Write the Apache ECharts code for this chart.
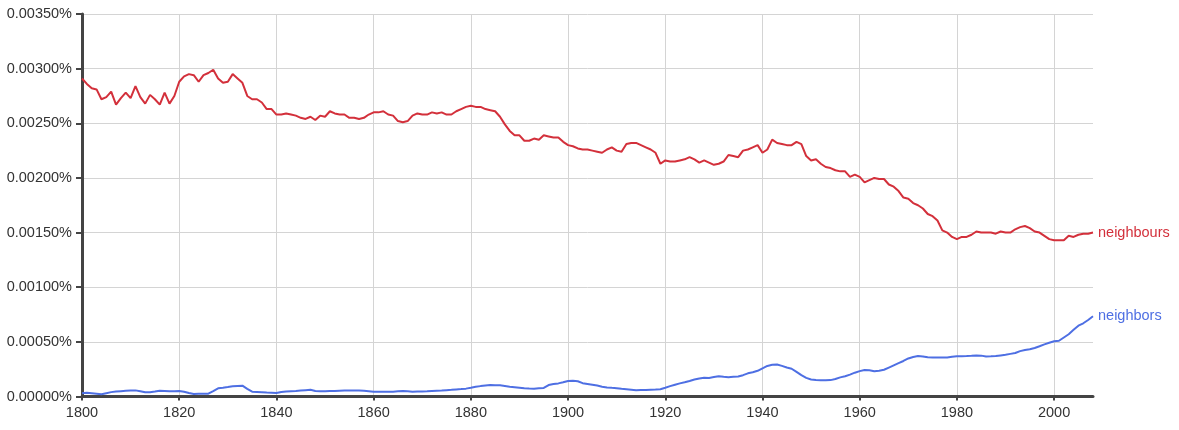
<!DOCTYPE html>
<html>
<head>
<meta charset="utf-8">
<title>neighbours / neighbors</title>
<script src="https://cdn.jsdelivr.net/npm/echarts@6/dist/echarts.min.js"></script>
<style>
  html, body { margin: 0; padding: 0; background: #fff; }
  #chart { width: 1179px; height: 430px; }
</style>
</head>
<body>
<div id="chart"></div>
<script>
// years 1800..2008, one value per year (percent)
var startYear = 1800;
var endYear = 2008;
var xTicks = [1800, 1820, 1840, 1860, 1880, 1900, 1920, 1940, 1960, 1980, 2000];
var yTicks = [0, 0.0005, 0.001, 0.0015, 0.002, 0.0025, 0.003, 0.0035];

var neighbours = [
  0.00291, 0.00286, 0.00282, 0.00281, 0.00272, 0.00274, 0.00279, 0.00267, 0.00273, 0.00278,
  0.00273, 0.00284, 0.00274, 0.00268, 0.00276, 0.00272, 0.00267, 0.00278, 0.00268, 0.00275,
  0.00288, 0.00293, 0.00295, 0.00294, 0.00288, 0.00294, 0.00296, 0.00299, 0.00291, 0.00287,
  0.00288, 0.00295, 0.00291, 0.00287, 0.00275, 0.00272, 0.00272, 0.00269, 0.00263, 0.00263,
  0.00258, 0.00258, 0.00259, 0.00258, 0.00257, 0.00255, 0.00254, 0.00256, 0.00253, 0.00257,
  0.00256, 0.00261, 0.00259, 0.00258, 0.00258, 0.00255, 0.00255, 0.00254, 0.00255, 0.00258,
  0.00260, 0.00260, 0.00261, 0.00258, 0.00257, 0.00252, 0.00251, 0.00252, 0.00257, 0.00259,
  0.00258, 0.00258, 0.00260, 0.00259, 0.00260, 0.00258, 0.00258, 0.00261, 0.00263, 0.00265,
  0.00266, 0.00265, 0.00265, 0.00263, 0.00262, 0.00261, 0.00256, 0.00249, 0.00243, 0.00239,
  0.00239, 0.00234, 0.00234, 0.00236, 0.00235, 0.00239, 0.00238, 0.00237, 0.00237, 0.00233,
  0.00230, 0.00229, 0.00227, 0.00226, 0.00226, 0.00225, 0.00224, 0.00223, 0.00226, 0.00228,
  0.00225, 0.00224, 0.00231, 0.00232, 0.00232, 0.00230, 0.00228, 0.00226, 0.00223, 0.00213,
  0.00216, 0.00215, 0.00215, 0.00216, 0.00217, 0.00219, 0.00217, 0.00214, 0.00216, 0.00214,
  0.00212, 0.00213, 0.00215, 0.00221, 0.00220, 0.00219, 0.00225, 0.00226, 0.00228, 0.00230,
  0.00223, 0.00226, 0.00235, 0.00232, 0.00231, 0.00230, 0.00230, 0.00233, 0.00231, 0.00220,
  0.00216, 0.00217, 0.00213, 0.00210, 0.00209, 0.00207, 0.00206, 0.00206, 0.00201, 0.00203,
  0.00201, 0.00196, 0.00198, 0.00200, 0.00199, 0.00199, 0.00194, 0.00192, 0.00188, 0.00182,
  0.00181, 0.00177, 0.00175, 0.00172, 0.00167, 0.00165, 0.00161, 0.00152, 0.00150, 0.00146,
  0.00144, 0.00146, 0.00146, 0.00148, 0.00151, 0.00150, 0.00150, 0.00150, 0.00149, 0.00151,
  0.00150, 0.00150, 0.00153, 0.00155, 0.00156, 0.00154, 0.00151, 0.00150, 0.00147, 0.00144,
  0.00143, 0.00143, 0.00143, 0.00147, 0.00146, 0.00148, 0.00149, 0.00149, 0.00150
];

var neighbors = [
  0.000029, 0.000035, 0.000030, 0.000025, 0.000020, 0.000030, 0.000040, 0.000045, 0.000049, 0.000052,
  0.000055, 0.000056, 0.000048, 0.000039, 0.000038, 0.000045, 0.000053, 0.000050, 0.000047, 0.000049,
  0.000050, 0.000043, 0.000032, 0.000023, 0.000025, 0.000026, 0.000026, 0.000050, 0.000075, 0.000080,
  0.000086, 0.000093, 0.000097, 0.000099, 0.000070, 0.000044, 0.000042, 0.000039, 0.000036, 0.000034,
  0.000032, 0.000042, 0.000046, 0.000048, 0.000050, 0.000054, 0.000058, 0.000062, 0.000050, 0.000048,
  0.000049, 0.000050, 0.000051, 0.000053, 0.000055, 0.000056, 0.000056, 0.000056, 0.000052, 0.000048,
  0.000044, 0.000044, 0.000044, 0.000044, 0.000044, 0.000047, 0.000050, 0.000047, 0.000044, 0.000045,
  0.000046, 0.000047, 0.000050, 0.000053, 0.000055, 0.000058, 0.000061, 0.000065, 0.000068, 0.000072,
  0.000080, 0.000089, 0.000095, 0.000100, 0.000105, 0.000104, 0.000102, 0.000096, 0.000090, 0.000085,
  0.000080, 0.000075, 0.000073, 0.000072, 0.000075, 0.000078, 0.000105, 0.000114, 0.000120, 0.000130,
  0.000142, 0.000143, 0.000140, 0.000122, 0.000115, 0.000108, 0.000100, 0.000090, 0.000083, 0.000079,
  0.000076, 0.000070, 0.000066, 0.000062, 0.000058, 0.000059, 0.000060, 0.000062, 0.000064, 0.000067,
  0.000080, 0.000095, 0.000108, 0.000120, 0.000130, 0.000142, 0.000155, 0.000165, 0.000172, 0.000170,
  0.000178, 0.000186, 0.000180, 0.000177, 0.000180, 0.000183, 0.000195, 0.000212, 0.000222, 0.000235,
  0.000258, 0.000280, 0.000290, 0.000293, 0.000280, 0.000265, 0.000254, 0.000225, 0.000195, 0.000170,
  0.000155, 0.000150, 0.000148, 0.000148, 0.000150, 0.000160, 0.000175, 0.000185, 0.000200, 0.000218,
  0.000232, 0.000243, 0.000240, 0.000232, 0.000236, 0.000245, 0.000265, 0.000285, 0.000305, 0.000325,
  0.000348, 0.000362, 0.000370, 0.000366, 0.000359, 0.000358, 0.000358, 0.000358, 0.000356, 0.000364,
  0.000368, 0.000369, 0.000370, 0.000372, 0.000375, 0.000374, 0.000367, 0.000368, 0.000370, 0.000376,
  0.000382, 0.000390, 0.000398, 0.000415, 0.000425, 0.000432, 0.000444, 0.000460, 0.000477, 0.000492,
  0.000505, 0.000510, 0.000540, 0.000570, 0.000610, 0.000648, 0.000670, 0.000700, 0.000734
];

function toPairs(arr) {
  var out = [];
  for (var i = 0; i < arr.length; i++) {
    out.push([startYear + i, arr[i]]);
  }
  return out;
}

var font = '"Liberation Sans", Arial, Helvetica, sans-serif';
var redColor = '#d3303b';
var blueColor = '#4e6fe3';

var chart = echarts.init(document.getElementById('chart'), null, { renderer: 'canvas' });

chart.setOption({
  animation: false,
  backgroundColor: '#fff',
  grid: { left: 82, right: 86, top: 14, bottom: 33.5 },
  xAxis: {
    type: 'value',
    min: startYear,
    max: endYear,
    interval: 20,
    axisLine: { show: true, lineStyle: { color: '#444', width: 3 } },
    axisTick: { show: true, length: 4, lineStyle: { color: '#444', width: 2 } },
    axisLabel: {
      showMaxLabel: false,
      margin: 9,
      color: '#333',
      fontFamily: font,
      fontSize: 14.5,
      formatter: function (v) { return xTicks.indexOf(v) >= 0 ? String(v) : ''; }
    },
    splitLine: { show: true, showMaxLine: false, lineStyle: { color: '#d4d4d4', width: 1 } }
  },
  yAxis: {
    type: 'value',
    min: yTicks[0],
    max: yTicks[yTicks.length - 1],
    interval: 0.0005,
    axisLine: { show: true, lineStyle: { color: '#444', width: 3 } },
    axisTick: { show: true, length: 6, lineStyle: { color: '#444', width: 2 } },
    axisLabel: {
      margin: 10,
      color: '#333',
      fontFamily: font,
      fontSize: 14.5,
      formatter: function (v) { return v.toFixed(5) + '%'; }
    },
    splitLine: { show: true, lineStyle: { color: '#d4d4d4', width: 1 } }
  },
  series: [
    {
      name: 'neighbours',
      type: 'line',
      data: toPairs(neighbours),
      showSymbol: false,
      symbol: 'none',
      lineStyle: { color: redColor, width: 2 },
      itemStyle: { color: redColor },
      endLabel: {
        show: true,
        formatter: '{a}',
        color: redColor,
        fontFamily: font,
        fontSize: 14.5,
        distance: 5
      }
    },
    {
      name: 'neighbors',
      type: 'line',
      data: toPairs(neighbors),
      showSymbol: false,
      symbol: 'none',
      lineStyle: { color: blueColor, width: 2 },
      itemStyle: { color: blueColor },
      endLabel: {
        show: true,
        formatter: '{a}',
        color: blueColor,
        fontFamily: font,
        fontSize: 14.5,
        distance: 5
      }
    }
  ]
});
</script>
</body>
</html>
